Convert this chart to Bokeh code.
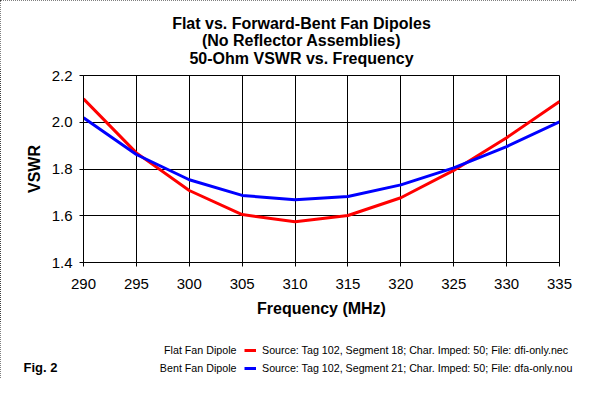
from bokeh.plotting import figure
from bokeh.layouts import column
from bokeh.models import (Label, FixedTicker, PrintfTickFormatter, Range1d,
                          Legend, LegendItem)
from bokeh.embed import file_html
from bokeh.resources import INLINE

# ---- data ----
freq = [290, 295, 300, 305, 310, 315, 320, 325, 330, 335]
flat_vswr = [2.100, 1.869, 1.708, 1.605, 1.574, 1.601, 1.677, 1.794, 1.934, 2.089]
bent_vswr = [2.019, 1.862, 1.754, 1.687, 1.668, 1.682, 1.732, 1.805, 1.896, 2.002]
x_ticks = [290, 295, 300, 305, 310, 315, 320, 325, 330, 335]
y_ticks = [1.4, 1.6, 1.8, 2.0, 2.2]
title_lines = ["Flat vs. Forward-Bent Fan Dipoles",
               "(No Reflector Assemblies)",
               "50-Ohm VSWR vs. Frequency"]
series_names = ["Flat Fan Dipole", "Bent Fan Dipole"]
series_colors = ["#FF0000", "#0000FF"]
series_sources = ["Source: Tag 102, Segment 18; Char. Imped: 50; File: dfi-only.nec",
                  "Source: Tag 102, Segment 21; Char. Imped: 50; File: dfa-only.nou"]
x_label = "Frequency (MHz)"
y_label = "VSWR"
fig_note = "Fig. 2"

FONT = "Liberation Sans"
W = 576


def blank(height, top):
    f = figure(width=W, height=height, x_range=Range1d(0, W),
               y_range=Range1d(top + height, top), title=None,
               x_axis_location=None, y_axis_location=None,
               min_border=0, output_backend="svg", toolbar_location=None)
    f.frame_align = False
    f.grid.visible = False
    f.outline_line_color = None
    f.background_fill_color = "white"
    f.border_fill_color = "white"
    return f


# ---- title strip ----
pt = blank(68, 0)
for i, t in enumerate(title_lines):
    pt.add_layout(Label(x=301, y=23.3 + 17.1 * i, text=t, text_font=FONT,
                        text_font_size="16px", text_font_style="bold",
                        text_align="center", text_baseline="alphabetic",
                        text_color="black"))

# ---- main plot ----
p = figure(frame_width=476, frame_height=187,
           min_border_left=83, min_border_right=17,
           min_border_top=7, min_border_bottom=60, title=None,
           x_range=Range1d(290, 335), y_range=Range1d(1.4, 2.2),
           output_backend="svg", toolbar_location=None)
p.frame_align = False
p.background_fill_color = "white"
p.border_fill_color = "white"
p.outline_line_color = "black"
p.outline_line_width = 1

for ax in (p.xaxis[0], p.yaxis[0]):
    ax.major_tick_out = 4
    ax.major_tick_in = 0
    ax.minor_tick_line_color = None
    ax.axis_line_color = "black"
    ax.major_tick_line_color = "black"
    ax.major_label_text_font = FONT
    ax.major_label_text_font_size = "15px"
    ax.major_label_text_color = "black"
    ax.axis_label_text_font = FONT
    ax.axis_label_text_font_size = "16px"
    ax.axis_label_text_font_style = "bold"
    ax.axis_label_text_color = "black"

p.xaxis.ticker = FixedTicker(ticks=x_ticks)
p.yaxis.ticker = FixedTicker(ticks=y_ticks)
p.yaxis.formatter = PrintfTickFormatter(format="%.1f")
p.xaxis.major_label_standoff = 12
p.yaxis.major_label_standoff = 7
p.xaxis.axis_label = x_label
p.yaxis.axis_label = y_label
p.xaxis.axis_label_standoff = 8
p.yaxis.axis_label_standoff = 6

p.grid.grid_line_color = "black"
p.grid.grid_line_width = 1
p.grid.grid_line_alpha = 1.0

series = [flat_vswr, bent_vswr]
for vals, c in zip(series, series_colors):
    p.line(freq, vals, line_color=c, line_width=3)

# ---- legend strip ----
pl = blank(56, 322)
# legend key renderers: same series, which fall outside this strip's range
keys = [pl.line(freq, vals, line_color=c, line_width=3)
        for vals, c in zip(series, series_colors)]
legend = Legend(items=[LegendItem(label=s, renderers=[k])
                       for s, k in zip(series_sources, keys)],
                location=(244, 1), orientation="vertical",
                glyph_width=12, glyph_height=18, label_height=18,
                label_standoff=6, spacing=0, padding=0, margin=0,
                border_line_color=None, background_fill_alpha=0,
                inactive_fill_alpha=0,
                label_text_font=FONT, label_text_font_size="10.7px",
                label_text_color="black")
pl.add_layout(legend)
for i, name in enumerate(series_names):
    pl.add_layout(Label(x=236, y=349 + 18 * i, text=name, text_font=FONT,
                        text_font_size="10.7px", text_align="right",
                        text_baseline="alphabetic", text_color="black"))
pl.add_layout(Label(x=23, y=367, text=fig_note, text_font=FONT,
                    text_font_size="13px", text_font_style="bold",
                    text_align="left", text_baseline="alphabetic",
                    text_color="black"))

layout = column(pt, p, pl, spacing=0)
layout.styles = {"outline": "1px dotted #000", "outline-offset": "-1px"}

open("out.html", "w").write(file_html(layout, INLINE))
